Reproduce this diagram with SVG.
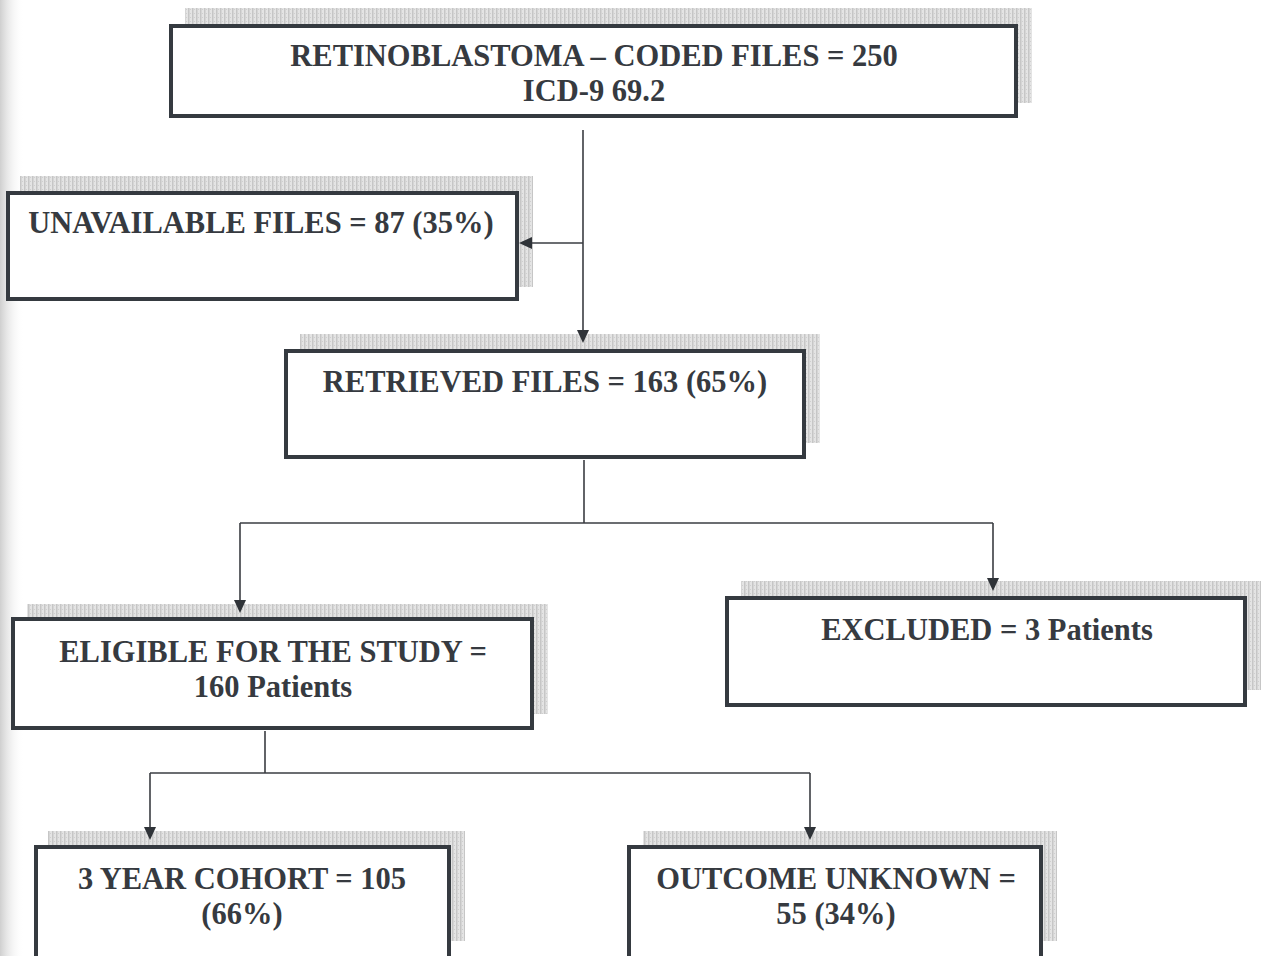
<svg xmlns="http://www.w3.org/2000/svg" width="1264" height="956" viewBox="0 0 1264 956">
<defs>
<pattern id="hatch" width="4" height="4" patternUnits="userSpaceOnUse">
<rect width="4" height="4" fill="#e4e4e4"/>
<rect x="0" y="0" width="1.5" height="4" fill="#c6c6c6"/>
<rect x="2" y="1" width="1" height="1" fill="#cfcfcf"/>
</pattern>
<linearGradient id="edge" x1="0" y1="0" x2="1" y2="0">
<stop offset="0" stop-color="#cfcfcf"/>
<stop offset="1" stop-color="#ffffff" stop-opacity="0"/>
</linearGradient>
</defs>
<style>
.sh{fill:url(#hatch);}
.bx{fill:#ffffff;stroke:#353a40;stroke-width:4;}
.t{font-family:"Liberation Serif","Times New Roman",serif;font-weight:bold;font-size:30.5px;fill:#363a40;text-anchor:middle;}
.c{fill:none;stroke:#3a3d42;stroke-width:1.6;}
.ah{fill:#2f3338;}
</style>
<rect x="0" y="0" width="1264" height="956" fill="#ffffff"/>
<rect x="0" y="0" width="24" height="956" fill="url(#edge)"/>

<g id="node-coded">
<rect class="sh" x="185" y="8" width="847" height="95"/>
<rect class="bx" x="171" y="26" width="845" height="90"/>
<text class="t" x="594" y="66">RETINOBLASTOMA – CODED FILES = 250</text>
<text class="t" x="594" y="101">ICD-9 69.2</text>
</g>

<g id="node-unavailable">
<rect class="sh" x="20" y="176" width="513" height="111"/>
<rect class="bx" x="8" y="193" width="509" height="106"/>
<text class="t" x="261" y="233">UNAVAILABLE FILES = 87 (35%)</text>
</g>

<g id="node-retrieved">
<rect class="sh" x="300" y="334" width="520" height="109"/>
<rect class="bx" x="286" y="351" width="518" height="106"/>
<text class="t" x="545" y="392">RETRIEVED FILES = 163 (65%)</text>
</g>

<g id="node-eligible">
<rect class="sh" x="27" y="604" width="521" height="110"/>
<rect class="bx" x="13" y="619" width="519" height="109"/>
<text class="t" x="273" y="662">ELIGIBLE FOR THE STUDY =</text>
<text class="t" x="273" y="697">160 Patients</text>
</g>

<g id="node-excluded">
<rect class="sh" x="741" y="581" width="520" height="109"/>
<rect class="bx" x="727" y="598" width="518" height="107"/>
<text class="t" x="987" y="640">EXCLUDED = 3 Patients</text>
</g>

<g id="node-cohort">
<rect class="sh" x="48" y="831" width="417" height="110"/>
<rect class="bx" x="36" y="847" width="413" height="115"/>
<text class="t" x="242" y="889">3 YEAR COHORT = 105</text>
<text class="t" x="242" y="924">(66%)</text>
</g>

<g id="node-unknown">
<rect class="sh" x="643" y="831" width="414" height="110"/>
<rect class="bx" x="629" y="847" width="412" height="115"/>
<text class="t" x="836" y="889">OUTCOME UNKNOWN =</text>
<text class="t" x="836" y="924">55 (34%)</text>
</g>

<g id="connectors">
<path class="c" d="M583,130 V332"/>
<polygon class="ah" points="577,330 589,330 583,343"/>
<path class="c" d="M583,243 H530"/>
<polygon class="ah" points="532,237 532,249 519,243"/>
<path class="c" d="M584,460 V523"/>
<path class="c" d="M240,523 H993"/>
<path class="c" d="M240,523 V602"/>
<polygon class="ah" points="234,600 246,600 240,613"/>
<path class="c" d="M993,523 V580"/>
<polygon class="ah" points="987,578 999,578 993,591"/>
<path class="c" d="M265,731 V773"/>
<path class="c" d="M150,773 H810"/>
<path class="c" d="M150,773 V829"/>
<polygon class="ah" points="144,827 156,827 150,840"/>
<path class="c" d="M810,773 V829"/>
<polygon class="ah" points="804,827 816,827 810,840"/>
</g>
</svg>
